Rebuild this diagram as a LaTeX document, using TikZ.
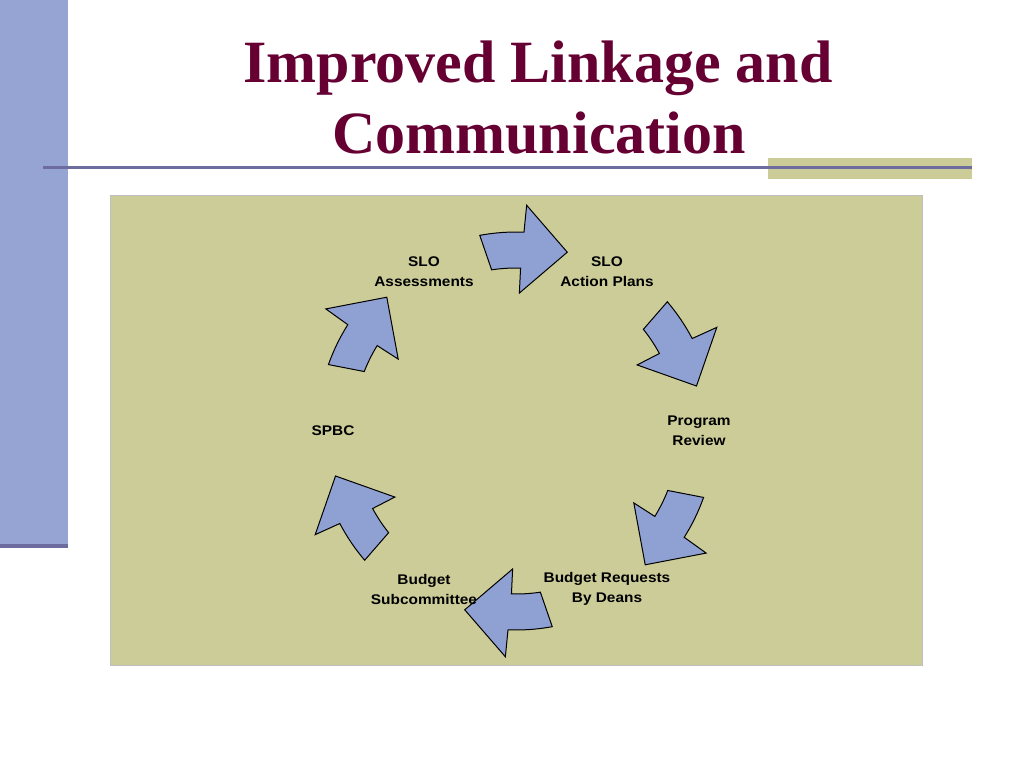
\documentclass[tikz,border=0pt]{standalone}
\usepackage{fontspec}
\setmainfont{Liberation Serif}
\newfontfamily\lblfont[FakeStretch=1.1]{Liberation Sans}
\definecolor{khaki}{RGB}{204,204,153}
\definecolor{barblue}{RGB}{150,164,212}
\definecolor{arrowblue}{RGB}{143,160,210}
\definecolor{lineblue}{RGB}{108,108,158}
\definecolor{maroon}{RGB}{102,0,51}
\tikzset{title/.style={font=\bfseries\fontsize{60}{71}\selectfont, text=maroon, inner sep=0pt},
  lbl/.style={font=\lblfont\bfseries\fontsize{14}{20}\selectfont, align=center, inner sep=0pt},
  cyc/.style={fill=arrowblue, draw=black, line width=1pt, line join=miter}}

\begin{document}
\begin{tikzpicture}[x=1pt,y=1pt]
  \useasboundingbox (0,0) rectangle (1024,-768);
  \fill[barblue] (0,0) rectangle (68,-546);
  \fill[lineblue] (0,-543.5) rectangle (68,-548);
  \fill[khaki] (768,-158) rectangle (972,-179);
  \draw[lineblue,line width=3pt] (43,-167) -- (972,-167);
  \draw[black!25,fill=khaki] (110,-195) rectangle (922,-665);
  \node[title,anchor=base] (title1) at (538,-82) {Improved Linkage and};
  \node[title,anchor=base] (title2) at (539,-153) {Communication};
  \foreach \t in {0,60,...,300} {
   \begin{scope}[shift={(516,-431)},rotate=-\t]
    \draw[cyc] (100.5:199) arc[start angle=100.5,end angle=87.7,radius=199]
      -- (87.3:226) -- (74:186) -- (88.6:138) -- (88.4:163)
      arc[start angle=88.4,end angle=98.6,radius=163] -- cycle;
   \end{scope}
  }
  \node[lbl] (assess)   at (424,-272) {SLO\\Assessments};
  \node[lbl] (plans)    at (607,-272) {SLO\\Action Plans};
  \node[lbl] (review)   at (699,-431) {Program\\Review};
  \node[lbl] (requests) at (607,-589) {Budget Requests\\By Deans};
  \node[lbl] (subcomm)  at (424,-589) {Budget\\Subcommittee};
  \node[lbl] (spbc)     at (333,-431) {SPBC};
\end{tikzpicture}
\end{document}
